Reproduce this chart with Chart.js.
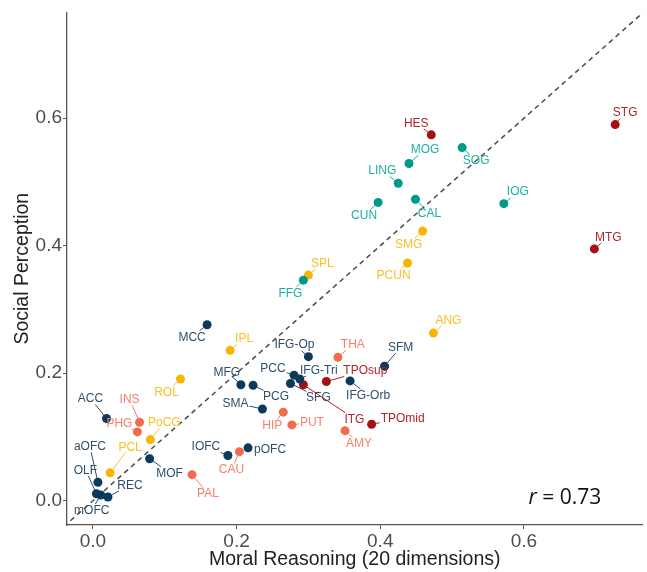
<!DOCTYPE html>
<html lang="en">
<head>
  <meta charset="UTF-8">
  <title>Moral Reasoning vs Social Perception</title>
  <script src="https://cdn.jsdelivr.net/npm/chart.js"></script>
  <style>
    body { margin: 0; background: #fff; }
  </style>
</head>
<body>
  <canvas id="scatter" width="647" height="572"></canvas>

  <script>
    // one entry per brain region
    const regions = [
      "MCC", "MFG", "PCG", "SMA", "ACC", "MOF", "IOFC", "pOFC", "aOFC", "OLF", "mOFC", "REC",
      "IFG-Op", "PCC", "IFG-Tri", "SFG", "SFM", "IFG-Orb",
      "MOG", "SOG", "LING", "IOG", "CUN", "CAL", "FFG",
      "SPL", "SMG", "PCUN", "ANG", "IPL", "ROL", "PoCG", "PCL",
      "INS", "PHG", "THA", "HIP", "PUT", "AMY", "CAU", "PAL",
      "HES", "STG", "MTG", "TPOsup", "ITG", "TPOmid"
    ];
    const moral = [
      0.159, 0.206, 0.223, 0.236, 0.019, 0.079, 0.188, 0.216, 0.007, 0.005, 0.011, 0.021,
      0.300, 0.280, 0.288, 0.275, 0.406, 0.358,
      0.440, 0.514, 0.425, 0.572, 0.397, 0.449, 0.293,
      0.300, 0.459, 0.438, 0.474, 0.191, 0.122, 0.080, 0.024,
      0.065, 0.062, 0.341, 0.265, 0.277, 0.351, 0.204, 0.138,
      0.471, 0.727, 0.698, 0.325, 0.293, 0.388
    ];
    const social = [
      0.276, 0.182, 0.181, 0.144, 0.129, 0.066, 0.071, 0.083, 0.029, 0.011, 0.009, 0.006,
      0.226, 0.197, 0.191, 0.184, 0.211, 0.188,
      0.529, 0.554, 0.498, 0.466, 0.468, 0.473, 0.346,
      0.354, 0.423, 0.373, 0.263, 0.236, 0.191, 0.096, 0.044,
      0.123, 0.108, 0.225, 0.139, 0.119, 0.110, 0.077, 0.041,
      0.574, 0.590, 0.395, 0.187, 0.182, 0.120
    ];
    const groups = [
      "frontal", "frontal", "frontal", "frontal", "frontal", "frontal", "frontal", "frontal", "frontal", "frontal", "frontal", "frontal",
      "frontal", "frontal", "frontal", "frontal", "frontal", "frontal",
      "occipital", "occipital", "occipital", "occipital", "occipital", "occipital", "occipital",
      "parietal", "parietal", "parietal", "parietal", "parietal", "parietal", "parietal", "parietal",
      "limbic", "limbic", "limbic", "limbic", "limbic", "limbic", "limbic", "limbic",
      "temporal", "temporal", "temporal", "temporal", "temporal", "temporal"
    ];
    const groupOrder = ["frontal", "occipital", "parietal", "limbic", "temporal"];
    const xTicks = [0, 0.2, 0.4, 0.6];
    const yTicks = [0, 0.2, 0.4, 0.6];
    const identity = [-0.05, 0.8]; // y = x reference line
    const rValue = "0.73";

    // colours: point, label
    const colors = {
      frontal:   ["#0b3a5c", "#2f4e6b"],
      occipital: ["#00998a", "#1db1a1"],
      parietal:  ["#f7b500", "#f8c025"],
      limbic:    ["#f26b4c", "#f5806a"],
      temporal:  ["#a50f15", "#b3232b"]
    };

    // label offsets in px from the point (repel-style placement)
    const labelOffsets = {
      "MCC": [-15, 12], "MFG": [-14, -13], "PCG": [23, 11], "SMA": [-27, -6], "ACC": [-16, -20],
      "MOF": [20, 14], "IOFC": [-22, -9], "pOFC": [22, 1], "aOFC": [-8, -36], "OLF": [-11, -24],
      "mOFC": [-9, 15], "REC": [22, -12],
      "IFG-Op": [-14, -12], "PCC": [-21, -7], "IFG-Tri": [19, -9], "SFG": [28, 14], "SFM": [16, -19],
      "IFG-Orb": [18, 14],
      "MOG": [16, -14], "SOG": [14, 13], "LING": [-16, -13], "IOG": [14, -12], "CUN": [-14, 13],
      "CAL": [14, 14], "FFG": [-13, 13],
      "SPL": [14, -12], "SMG": [-14, 13], "PCUN": [-14, 12], "ANG": [15, -13], "IPL": [14, -12],
      "ROL": [-14, 13], "PoCG": [14, -17], "PCL": [20, -26],
      "INS": [-10, -23], "PHG": [-18, -9], "THA": [15, -13], "HIP": [-11, 13], "PUT": [20, -3],
      "AMY": [14, 13], "CAU": [-8, 18], "PAL": [16, 19],
      "HES": [-15, -12], "STG": [10, -12], "MTG": [14, -12], "TPOsup": [39, -11], "ITG": [51, 34],
      "TPOmid": [31, -6]
    };

    const datasets = groupOrder.map(g => ({
      label: g,
      data: regions.map((r, i) => ({ x: moral[i], y: social[i], g: groups[i] })).filter(d => d.g === g),
      backgroundColor: colors[g][0],
      borderWidth: 0,
      pointRadius: 4.5,
      pointHoverRadius: 4.5
    }));
    datasets.push({
      type: "line",
      label: "identity",
      data: identity.map(v => ({ x: v, y: v })),
      borderColor: "#4a4a4a",
      borderWidth: 1.5,
      borderDash: [5, 4],
      pointRadius: 0,
      order: 10
    });

    const labelPlugin = {
      id: "regionLabels",
      afterDatasetsDraw(chart) {
        const ctx = chart.ctx;
        const xs = chart.scales.x, ys = chart.scales.y;
        ctx.save();
        ctx.font = '12px "Liberation Sans", Arial, sans-serif';
        ctx.textAlign = "center";
        ctx.textBaseline = "middle";
        regions.forEach((name, i) => {
          const px = xs.getPixelForValue(moral[i]);
          const py = ys.getPixelForValue(social[i]);
          const off = labelOffsets[name] || [10, -10];
          const lx = px + off[0], ly = py + off[1];
          const c = colors[groups[i]][1];
          const hw = ctx.measureText(name).width / 2 + 1, hh = 6;
          const vx = px - lx, vy = py - ly;
          const t = Math.min(vx ? hw / Math.abs(vx) : Infinity, vy ? hh / Math.abs(vy) : Infinity);
          if (t < 1) {
            const ex = lx + vx * t, ey = ly + vy * t;
            const len = Math.hypot(ex - px, ey - py);
            if (len > 6) {
              ctx.beginPath();
              ctx.moveTo(px + (ex - px) / len * 4, py + (ey - py) / len * 4);
              ctx.lineTo(ex, ey);
              ctx.strokeStyle = c;
              ctx.lineWidth = 1;
              ctx.stroke();
            }
          }
          ctx.fillStyle = c;
          ctx.fillText(name, lx, ly + 0.5);
        });
        // correlation annotation
        const a = chart.chartArea;
        ctx.textAlign = "left";
        ctx.textBaseline = "alphabetic";
        ctx.fillStyle = "#111";
        const bx = a.right - 114, by = a.bottom - 21;
        ctx.font = 'italic 21px "Open Sans", sans-serif';
        ctx.fillText("r", bx, by);
        const rw = ctx.measureText("r").width;
        ctx.font = '21px "Open Sans", sans-serif';
        ctx.fillText(" = " + rValue, bx + rw, by);
        ctx.restore();
      }
    };

    const tickFont = { family: '"Liberation Sans", Arial, sans-serif', size: 19 };
    const titleFont = { family: '"Liberation Sans", Arial, sans-serif', size: 19.5 };

    new Chart(document.getElementById("scatter").getContext("2d"), {
      type: "scatter",
      data: { datasets: datasets },
      plugins: [labelPlugin],
      options: {
        responsive: false,
        animation: false,
        events: [],
        layout: { padding: { top: 12, right: 3, left: 0, bottom: 0 } },
        plugins: { legend: { display: false }, tooltip: { enabled: false } },
        scales: {
          x: {
            type: "linear",
            min: -0.036,
            max: 0.765,
            afterBuildTicks: s => { s.ticks = xTicks.map(v => ({ value: v })); },
            afterFit: s => { s.height = 47; },
            ticks: { color: "#4d4d4d", font: tickFont, padding: 1, callback: v => v.toFixed(1) },
            grid: { drawOnChartArea: false, drawTicks: true, tickLength: 4, color: "#555" },
            border: { color: "#555", width: 1.3 },
            title: { display: true, text: "Moral Reasoning (20 dimensions)", color: "#222", font: titleFont, padding: { top: 0, bottom: 1 } }
          },
          y: {
            type: "linear",
            min: -0.038,
            max: 0.766,
            afterBuildTicks: s => { s.ticks = yTicks.map(v => ({ value: v })); },
            afterFit: s => { s.width = 67; },
            ticks: { color: "#4d4d4d", font: tickFont, padding: 1, callback: v => v.toFixed(1) },
            grid: { drawOnChartArea: false, drawTicks: true, tickLength: 4, color: "#555" },
            border: { color: "#555", width: 1.3 },
            title: { display: true, text: "Social Perception", color: "#222", font: titleFont, padding: { top: 11, bottom: 0 } }
          }
        }
      }
    });
  </script>
</body>
</html>
